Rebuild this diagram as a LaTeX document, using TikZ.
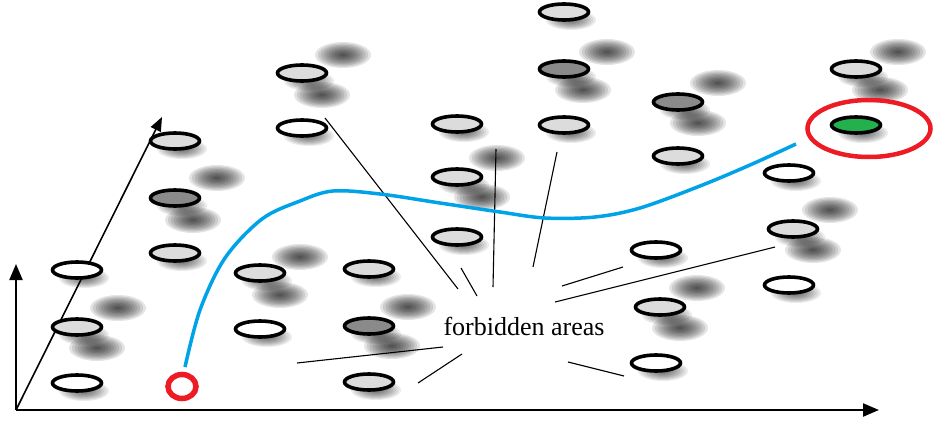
\documentclass[tikz,border=0pt]{standalone}
\usepackage{fontspec}
\setmainfont{Liberation Serif}
\usetikzlibrary{shapes.geometric,arrows.meta}
\definecolor{lgray}{HTML}{DCDCDC}
\definecolor{dgray}{HTML}{8A8A8A}
\definecolor{pgreen}{HTML}{22B14C}
\definecolor{pred}{HTML}{ED1C24}
\definecolor{pblue}{HTML}{00A2E8}
% blurred blob: x, y, x radius, y radius, opacity per layer
\newcommand{\myblob}[5]{%
  \foreach \k in {1,...,10}{%
    \fill[black,opacity=#5] (#1,#2) ellipse [x radius={(#3)*(11-\k)/10*1pt}, y radius={(#4)*(11-\k)/10*1pt}];}}
\tikzset{
  cell/.style={ellipse, draw=black, line width=3.6pt, minimum width=49pt, minimum height=16pt, inner sep=0pt},
  lite/.style={cell, fill=lgray},
  dark/.style={cell, fill=dgray},
  blank/.style={cell, fill=white},
  goal/.style={cell, fill=pgreen},
  axis/.style={line width=2.2pt, -{Triangle[length=16pt,width=13pt]}},
  daxis/.style={line width=1.6pt, -{Triangle[length=14pt,width=11pt]}},
  ray/.style={line width=1.1pt},
  ring/.style={ellipse, draw=pred, inner sep=0pt},
  route/.style={pblue, line width=3.5pt},
  label/.style={font=\fontsize{26}{30}\selectfont, anchor=base, inner sep=0pt},
}
\begin{document}
\begin{tikzpicture}[x=1pt,y=-1pt]
\useasboundingbox (0,0) rectangle (934,423);
% big blurred shadows
\foreach \bx/\by in {217/178,193/220,118/308,97/348,343/55,322/95,300/257,280/295,408/307,392/346,607/52,583/90,497/158,482/197,718/83,698/123,898/52,880/90,830/210,813/250,697/288,680/328}{
  \myblob{\bx}{\by}{28}{13}{0.105}
}
% drop shadows of cells
\foreach \bx/\by in {77/270,77/327,77/383,175/141,175/198,175/253,260/273,260/329,302/73,302/128,369/269,369/326,369/382,457/124,457/177,457/237,564/12,564/69,564/125,678/102,678/156,656/250,660/307,656/363,789/173,793/229,789/285,856/69,856/125}{
  \myblob{\bx+7}{\by+8}{25}{10}{0.08}
}
% axes
\coordinate (o) at (16,410);
\coordinate (xt) at (879,410);
\coordinate (yt) at (16,264);
\coordinate (zt) at (162,117);
\draw[axis] (o) -- (xt);
\draw[axis] (o) -- (yt);
\draw[daxis] (o) -- (zt);
% cells
\node[blank] (a1) at (77,270) {};
\node[lite]  (a2) at (77,327) {};
\node[blank] (a3) at (77,383) {};
\node[lite]  (b1) at (175,141) {};
\node[dark]  (b2) at (175,198) {};
\node[lite]  (b3) at (175,253) {};
\node[lite]  (c1) at (260,273) {};
\node[blank] (c2) at (260,329) {};
\node[lite]  (d1) at (302,73) {};
\node[blank] (d2) at (302,128) {};
\node[lite]  (e1) at (369,269) {};
\node[dark]  (e2) at (369,326) {};
\node[lite]  (e3) at (369,382) {};
\node[lite]  (f1) at (457,124) {};
\node[lite]  (f2) at (457,177) {};
\node[lite]  (f3) at (457,237) {};
\node[lite]  (g1) at (564,12) {};
\node[dark]  (g2) at (564,69) {};
\node[lite]  (g3) at (564,125) {};
\node[dark]  (h1) at (678,102) {};
\node[lite]  (h2) at (678,156) {};
\node[blank] (h3) at (656,250) {};
\node[lite]  (h4) at (660,307) {};
\node[blank] (h5) at (656,363) {};
\node[blank] (i1) at (789,173) {};
\node[lite]  (i2) at (793,229) {};
\node[blank] (i3) at (789,285) {};
\node[lite]  (j1) at (856,69) {};
\node[goal]  (j2) at (856,125) {};
% label and rays
\node[label] (fa) at (524,335.5) {forbidden areas};
\coordinate (r1a) at (325,118); \coordinate (r1b) at (458,289);
\coordinate (r2a) at (461,268); \coordinate (r2b) at (477,296);
\coordinate (r3a) at (496,149); \coordinate (r3b) at (493,287);
\coordinate (r4a) at (557,152); \coordinate (r4b) at (533,267);
\coordinate (r5a) at (562,286); \coordinate (r5b) at (623,267);
\coordinate (r6a) at (555,302); \coordinate (r6b) at (775,247);
\coordinate (r7a) at (297,363); \coordinate (r7b) at (443,347);
\coordinate (r8a) at (418,383); \coordinate (r8b) at (462,354);
\coordinate (r9a) at (568,362); \coordinate (r9b) at (624,376);
\foreach \r in {1,...,9}{\draw[ray] (r\r a) -- (r\r b);}
% start, goal and route
\node[ring, line width=5.5pt, minimum width=28pt, minimum height=24pt] (start) at (182,386.5) {};
\node[ring, line width=4.5pt, minimum width=123pt, minimum height=57pt] (target) at (869,128.5) {};
\coordinate (p0) at (185,367);
\coordinate (p1) at (796,144);
\draw[route] plot[smooth, tension=0.55] coordinates {(p0) (200,310) (225,258) (262,219) (300,201) (333,191) (380,194) (440,203) (500,212) (545,218) (595,217) (640,208) (700,186) (750,165) (p1)};
\end{tikzpicture}
\end{document}
